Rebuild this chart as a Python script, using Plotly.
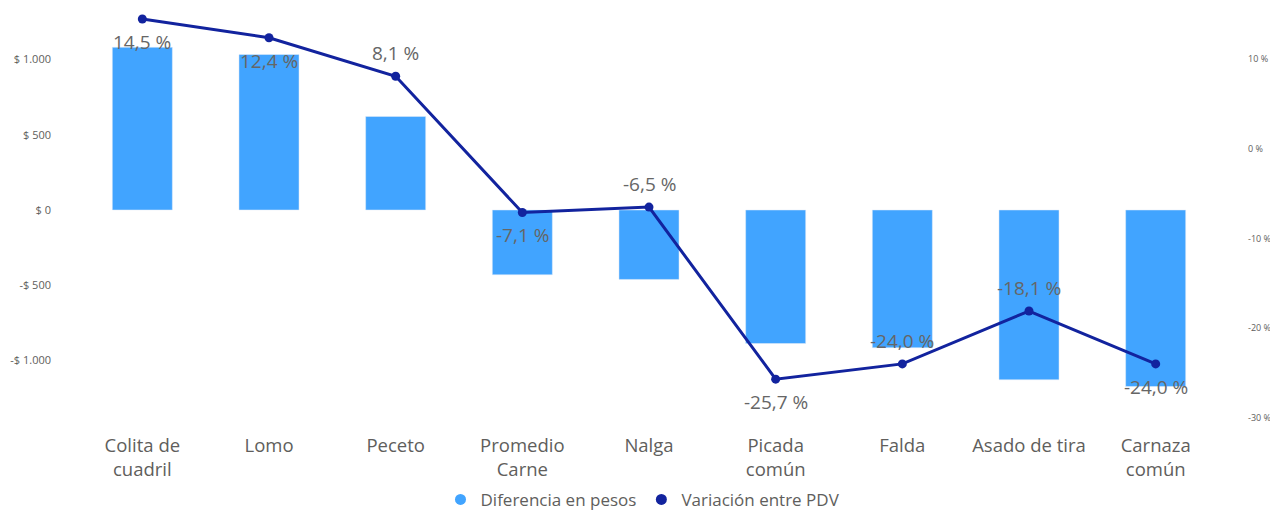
import plotly.graph_objects as go

categories = ["Colita de<br>cuadril", "Lomo", "Peceto", "Promedio<br>Carne", "Nalga",
              "Picada<br>común", "Falda", "Asado de tira", "Carnaza<br>común"]
diferencia_pesos = [1082, 1034, 622, -431, -462, -888, -916, -1129, -1174]
variacion_pdv = [14.5, 12.4, 8.1, -7.1, -6.5, -25.7, -24.0, -18.1, -24.0]
label_above = [False, False, True, False, True, False, True, True, False]

left_tickvals = [1000, 500, 0, -500, -1000]
left_ticktext = ["$ 1.000", "$ 500", "$ 0", "-$ 500", "-$ 1.000"]
right_tickvals = [10, 0, -10, -20, -30]
right_ticktext = ["10 %", "0 %", "-10 %", "-20 %", "-30 %"]

FONT = "Open Sans"
GREY = "#605E5C"
BAR = "#41A4FF"
LINE = "#12239E"

fig = go.Figure()
fig.add_trace(go.Bar(
    x=categories, y=diferencia_pesos, name="Diferencia en pesos",
    marker=dict(color=BAR), yaxis="y", hoverinfo="skip", showlegend=False,
))
fig.add_trace(go.Scatter(
    x=categories, y=variacion_pdv, name="Variación entre PDV",
    mode="lines+markers", yaxis="y2", showlegend=False,
    line=dict(color=LINE, width=3), marker=dict(color=LINE, size=9),
))
# legend entries (circle markers like the original)
fig.add_trace(go.Scatter(x=[None], y=[None], mode="markers", name="Diferencia en pesos",
                         marker=dict(color=BAR, size=11, symbol="circle")))
fig.add_trace(go.Scatter(x=[None], y=[None], mode="markers", name="Variación entre PDV",
                         marker=dict(color=LINE, size=11, symbol="circle")))

for c, v, up in zip(categories, variacion_pdv, label_above):
    fig.add_annotation(
        x=c, y=v, xref="x", yref="y2",
        text=f"{v:.1f} %".replace(".", ","),
        showarrow=False, yshift=23 if up else -23,
        font=dict(family=FONT, size=19, color="#666666"),
    )

# the page body adds an 8px margin, so the figure is 8px smaller than the window
fig.update_layout(
    width=1270, height=503,
    margin=dict(l=71, r=59, t=2, b=91),
    paper_bgcolor="white", plot_bgcolor="white",
    bargap=0.526,
    font=dict(family=FONT, color=GREY),
    showlegend=True,
    legend=dict(orientation="h", xref="container", yref="container",
                x=0.5, xanchor="center", y=0.058, yanchor="top",
                font=dict(size=17, color=GREY), itemwidth=30,
                traceorder="normal"),
    xaxis=dict(showgrid=False, zeroline=False, showline=False, automargin=False,
               tickfont=dict(size=18.5, color=GREY), ticks="", ticklabelstandoff=12),
    yaxis=dict(range=[-1396.7, 1330], tickvals=left_tickvals, ticktext=left_ticktext,
               showgrid=False, zeroline=False, showline=False, automargin=False,
               tickfont=dict(size=11, color=GREY), ticklabelstandoff=27),
    yaxis2=dict(range=[-30.26, 15.5], overlaying="y", side="right",
                tickvals=right_tickvals, ticktext=right_ticktext,
                showgrid=False, zeroline=False, showline=False, automargin=False,
                tickfont=dict(size=9, color=GREY), ticklabelstandoff=28),
)

fig.write_html("out.html")
